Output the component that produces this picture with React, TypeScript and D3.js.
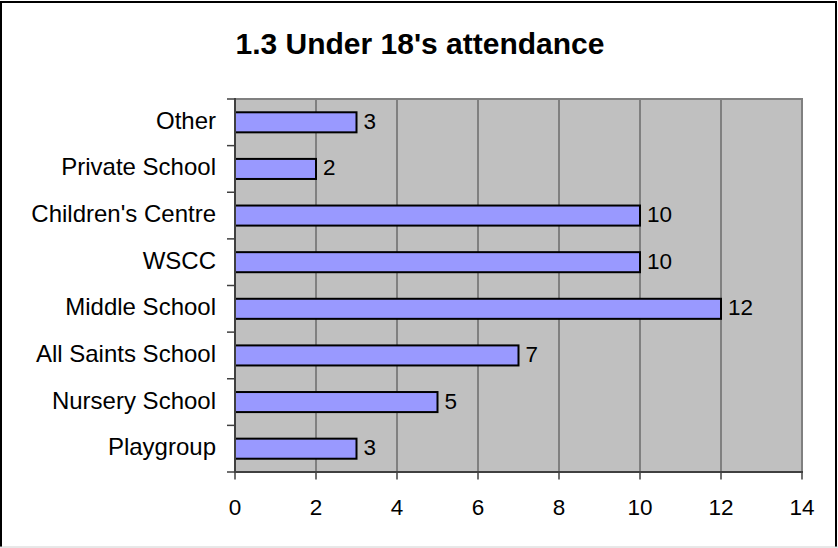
import React from "react";
import * as d3 from "d3";

const categories = ["Other", "Private School", "Children's Centre", "WSCC", "Middle School", "All Saints School", "Nursery School", "Playgroup"];
const values = [3, 2, 10, 10, 12, 7, 5, 3];
const xTicks = [0, 2, 4, 6, 8, 10, 12, 14];
const title = "1.3 Under 18's attendance";

const W = 838;
const H = 548;
const plot = { left: 235, top: 99, right: 802, bottom: 472 };
const FONT = "'Liberation Sans', Arial, Helvetica, sans-serif";

export default function App() {
  const x = d3.scaleLinear().domain([0, 14]).range([plot.left, plot.right]);
  const y = d3.scaleBand<string>().domain(categories).range([plot.top, plot.bottom]).paddingInner(0).paddingOuter(0);
  const bw = y.bandwidth();
  const barH = bw * 0.43;
  const boundaries = d3.range(categories.length + 1).map((i) => plot.top + i * bw);

  return (
    <svg width={W} height={H} style={{ position: "fixed", left: 0, top: 0, background: "#fff" }} fontFamily={FONT}>
      <rect x={0} y={0} width={W} height={H} fill="#fff" />
      {/* outer border */}
      <line x1={1} y1={1} x2={1} y2={547} stroke="#000" strokeWidth={2} />
      <line x1={0} y1={2} x2={837} y2={2} stroke="#000" strokeWidth={2} />
      <line x1={836} y1={1} x2={836} y2={547} stroke="#000" strokeWidth={2} />
      <line x1={0} y1={547} x2={838} y2={547} stroke="#d0d0d0" strokeWidth={1} />

      <text x={420} y={53.5} textAnchor="middle" fontSize={30} fontWeight="bold" fill="#000">{title}</text>

      {/* plot area */}
      <rect x={plot.left} y={plot.top} width={plot.right - plot.left} height={plot.bottom - plot.top} fill="#c0c0c0" />
      {xTicks.slice(1, -1).map((t) => (
        <line key={"g" + t} x1={x(t)} x2={x(t)} y1={plot.top} y2={plot.bottom} stroke="#404040" strokeWidth={1} />
      ))}
      <line x1={plot.left} x2={plot.right + 1} y1={plot.top} y2={plot.top} stroke="#808080" strokeWidth={2} />
      <line x1={plot.right} x2={plot.right} y1={plot.top} y2={plot.bottom} stroke="#808080" strokeWidth={2} />

      {/* bars */}
      {categories.map((c, i) => {
        const cy = (y(c) as number) + bw / 2;
        return (
          <g key={c}>
            <rect x={x(0)} y={cy - barH / 2} width={x(values[i]) - x(0)} height={barH} fill="#9999ff" stroke="#000" strokeWidth={2} />
            <text x={x(values[i]) + 7} y={cy + 6.5} fontSize={22.5} fill="#000">{values[i]}</text>
            <text x={216} y={cy + 6.5} textAnchor="end" fontSize={24} fill="#000">{c}</text>
          </g>
        );
      })}

      {/* axes */}
      <line x1={plot.left} x2={plot.left} y1={plot.top - 1} y2={plot.bottom} stroke="#404040" strokeWidth={2} />
      <line x1={plot.left - 1} x2={plot.right + 1} y1={plot.bottom} y2={plot.bottom} stroke="#404040" strokeWidth={2} />
      {boundaries.map((b, i) => (
        <line key={"yt" + i} x1={227} x2={plot.left} y1={b} y2={b} stroke="#404040" strokeWidth={1.5} />
      ))}
      {xTicks.map((t) => (
        <g key={"xt" + t}>
          <line x1={x(t)} x2={x(t)} y1={plot.bottom} y2={plot.bottom + 7.5} stroke="#404040" strokeWidth={1.5} />
          <text x={x(t)} y={515} textAnchor="middle" fontSize={22.5} fill="#000">{t}</text>
        </g>
      ))}
    </svg>
  );
}
